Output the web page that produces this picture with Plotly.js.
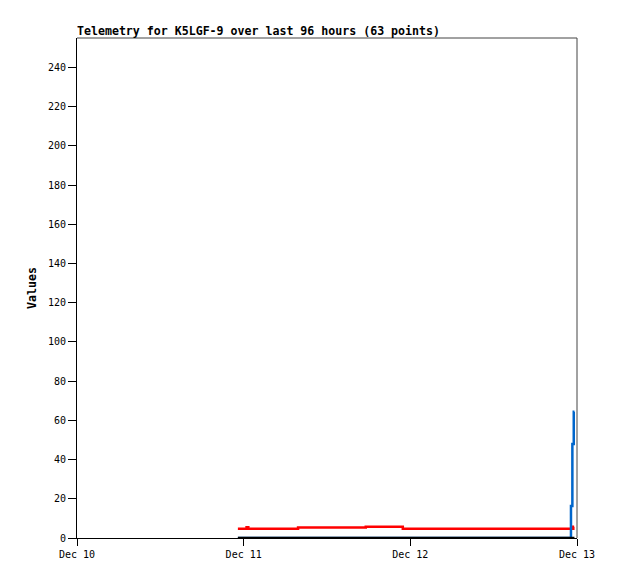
<!DOCTYPE html>
<html>
<head>
<meta charset="utf-8">
<script src="https://cdn.plot.ly/plotly-3.0.1.min.js"></script>
<style>html,body{margin:0;padding:0;background:#fff;}</style>
</head>
<body>
<div id="chart" style="width:618px;height:579px;"></div>
<script>
// Series values
const redTimes = ["2024-12-10 23:10","2024-12-11 00:25","2024-12-11 00:40","2024-12-11 07:50","2024-12-11 17:35","2024-12-11 22:55","2024-12-12 23:28","2024-12-12 23:35"];
const redValues = [4.7, 5.5, 4.7, 5.3, 5.8, 4.7, 5.8, 5.8];

const blueTimes = ["2024-12-10 23:10","2024-12-12 23:08","2024-12-12 23:20","2024-12-12 23:32","2024-12-12 23:38"];
const blueValues = [0, 16.3, 48, 64.4, 64.4];

const blackTimes = ["2024-12-10 23:10","2024-12-11 12:00","2024-12-12 12:00","2024-12-12 23:38"];
const blackValues = [0, 0, 0, 0];

const xTickVals = ["2024-12-10","2024-12-11","2024-12-12","2024-12-13"];
const xTickText = ["Dec 10","Dec 11","Dec 12","Dec 13"];
const yTickVals = [0,20,40,60,80,100,120,140,160,180,200,220,240];

const mono = "DejaVu Sans Mono, Liberation Mono, monospace";

const traces = [
  {x: redTimes, y: redValues, type: "scatter", mode: "lines", line: {color: "#ff0000", width: 2.5, shape: "hv"}, hoverinfo: "skip"},
  {x: blueTimes, y: blueValues, type: "scatter", mode: "lines", line: {color: "#0066cc", width: 2.5, shape: "hv"}, hoverinfo: "skip"},
  {x: blackTimes, y: blackValues, type: "scatter", mode: "lines", line: {color: "#000000", width: 2.5, shape: "hv"}, hoverinfo: "skip"}
];

const layout = {
  width: 618, height: 579,
  margin: {l: 77, r: 41, t: 38, b: 41},
  paper_bgcolor: "#ffffff", plot_bgcolor: "#ffffff",
  showlegend: false,
  title: {text: "<b>Telemetry for K5LGF-9 over last 96 hours (63 points)</b>", x: 77/618, xref: "container", xanchor: "left", y: 1 - 31/579, yref: "container", yanchor: "middle", font: {family: mono, size: 11.6, color: "#000"}},
  xaxis: {
    type: "date", range: ["2024-12-10", "2024-12-13"],
    tickmode: "array", tickvals: xTickVals, ticktext: xTickText,
    ticks: "outside", ticklen: 7, tickcolor: "#000", tickwidth: 1,
    showline: true, linecolor: "#000", linewidth: 1, mirror: false,
    showgrid: false, zeroline: false,
    tickfont: {family: mono, size: 10, color: "#000"}
  },
  yaxis: {
    range: [0, 255], tickmode: "array", tickvals: yTickVals,
    ticks: "outside", ticklen: 8, tickcolor: "#000", tickwidth: 1,
    ticksuffix: "\u2002",
    showline: true, linecolor: "#000", linewidth: 1, mirror: false,
    showgrid: false, zeroline: false,
    tickfont: {family: mono, size: 10, color: "#000"}
  },
  shapes: [
    {type: "line", xref: "paper", yref: "paper", x0: 0, x1: 1, y0: 1, y1: 1, line: {color: "#444", width: 1}},
    {type: "line", xref: "paper", yref: "paper", x0: 1, x1: 1, y0: 0, y1: 1, line: {color: "#444", width: 1}}
  ],
  annotations: [
    {text: "<b>Values</b>", xref: "paper", yref: "paper", x: (32 - 77) / 500, y: 0.5, xanchor: "center", yanchor: "middle", textangle: -90, showarrow: false, font: {family: mono, size: 11.6, color: "#000"}}
  ]
};

Plotly.newPlot("chart", traces, layout, {displayModeBar: false, staticPlot: true});
</script>
</body>
</html>
